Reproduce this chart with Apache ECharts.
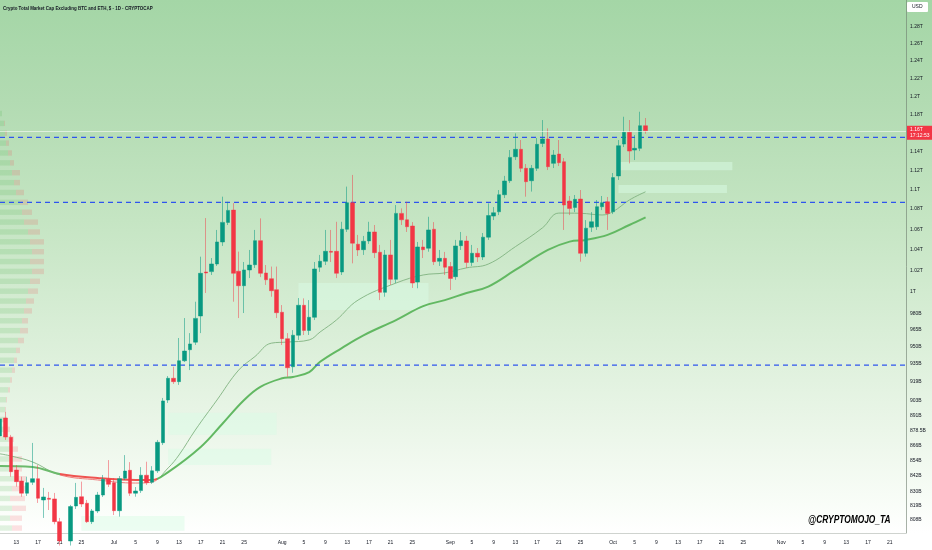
<!DOCTYPE html>
<html>
<head>
<meta charset="utf-8">
<script src="https://cdn.jsdelivr.net/npm/echarts@6/dist/echarts.min.js"></script>
<style>
html,body{margin:0;padding:0;}
body{width:932px;height:550px;overflow:hidden;
background:linear-gradient(to bottom,#a4d6a6 0px,#b2dbb2 100px,#c5e5c3 220px,#d9eed7 330px,#ebf6e9 430px,#f9fdf8 505px,#ffffff 533px,#ffffff 550px);}
#chart{width:932px;height:550px;}
</style>
</head>
<body>
<div id="chart"></div>
<script>
// ---------- categories (daily, Jun 10 -> Nov 24) ----------
const startDay = Date.UTC(2025, 5, 10);
const dayCount = 168;
const categories = [];
for (let i = 0; i < dayCount; i++) {
  categories.push(new Date(startDay + i * 86400000).toISOString().slice(0, 10));
}
const monthNames = ['Jan','Feb','Mar','Apr','May','Jun','Jul','Aug','Sep','Oct','Nov','Dec'];
const tickDays = [1, 5, 9, 13, 17, 21, 25];

// ---------- candles (values in billions USD) ----------
const candleOpen = [874,888.7,872.9,846.6,838.0,828.5,837.0,839.8,823.3,824.6,
824.1,806.8,792,792.4,818.7,825.8,820.8,806.8,814.9,827.1,
839.3,836.7,815.1,840.1,846.4,828.5,830.5,842.5,837.0,846.0,
868.5,903.8,922.3,919.4,937.5,947.2,953.9,977.5,1018.5,1018.8,
1026.1,1047.4,1066.7,1079.0,1019.2,1005.5,1020.4,1025.4,1048.7,1017.5,
1012.1,1001.8,980.9,957.0,932.3,960.1,987.3,964.4,976.3,1023.0,
1028.7,1038.3,1038.3,1018.5,1059.9,1086.4,1045.2,1039.9,1048.4,1057.2,
1037.4,999.3,1034.8,1011.5,1075.7,1069.3,1063.1,1008.9,1042.5,1041.3,
1059.9,1028.7,1031.5,1023.6,1014.0,1043.8,1048.4,1027.6,1036.4,1032.8,
1052.1,1073.0,1077.3,1094.6,1109.0,1134.1,1142.0,1121.9,1109.0,1121.9,
1148.3,1153.0,1127.1,1136.9,1128.8,1088.2,1081.7,1090.2,1036.4,1061.9,
1062.4,1082.4,1087.4,1077.3,1114.0,1147.6,1160.2,1141.2,1143.0,1167.4];
const candleClose = [888,873.1,845.3,837.5,828.5,836.7,839.8,824.6,825.6,823.8,
806.8,792.4,788,818.2,825.3,820.2,806.8,814.9,827.1,839.3,
835.4,815.1,839.8,845.8,828.5,830.2,842.5,836.7,846.0,868.8,
903.0,922.3,919.4,937.5,946.0,952.3,975.3,1017.2,1017.5,1026.1,
1047.4,1066.7,1078.7,1017.2,1005.5,1020.4,1025.1,1048.7,1017.2,1011.1,
1000.8,980.5,957.0,931.4,960.1,987.3,964.4,976.3,1021.3,1028.7,
1038.3,1037.4,1017.2,1059.9,1086.4,1046.2,1039.6,1048.1,1057.2,1037.0,
999.3,1034.8,1011.5,1075.7,1069.3,1062.4,1008.0,1042.5,1039.9,1059.2,
1028.3,1031.5,1023.0,1012.4,1043.5,1048.7,1027.6,1036.4,1032.8,1052.1,
1073.5,1076.3,1094.6,1108.7,1133.4,1142.0,1121.9,1108.0,1121.9,1147.3,
1153.0,1123.6,1135.9,1127.8,1084.1,1080.7,1089.9,1036.4,1060.9,1067.3,
1082.4,1086.4,1075.7,1112.2,1145.8,1160.2,1140.1,1143.0,1167.4,1161.9];
const candleLow = [871,870.7,841.4,833.6,825.8,826.4,834.9,821.0,809.6,815.6,
804.8,789,784,789,816.4,817.9,805.8,805.0,813.3,825.6,
833.3,811.8,810.6,838.8,826.4,825.8,828.7,834.9,835.7,844.3,
866.6,901.3,917.4,916.6,936.4,929.4,951.4,962.0,998.7,1015.6,
1024.2,1043.5,1064.1,990.6,975.6,980.2,1012.7,1022.3,1013.6,1006.2,
995.2,975.6,951.4,923.6,927.1,955.9,960.3,960.3,973.8,1018.5,
1025.1,1028.0,1012.7,1015.6,1057.2,1026.7,1033.8,1034.8,1045.5,1031.8,
992.1,995.2,1006.2,1008.0,1064.1,1057.2,1003.4,1003.1,1031.8,1037.9,
1025.1,1024.2,1015.6,1001.5,1011.0,1039.6,1022.3,1024.2,1028.0,1029.9,
1049.4,1069.0,1074.0,1091.2,1106.7,1130.6,1118.0,1092.6,1097.8,1119.1,
1144.4,1120.1,1122.2,1124.3,1059.2,1074.0,1077.0,1028.3,1033.1,1057.2,
1059.2,1079.0,1059.2,1075.0,1109.8,1144.4,1127.1,1130.6,1140.1,1158.8];
const candleHigh = [894,893.8,874.8,850.5,841.4,841.4,868.3,850.5,832.6,829.5,
828.7,809.6,795,819.5,836.5,837.5,823.3,816.4,829.5,842.7,
854.5,840.3,841.9,858.5,852.9,833.3,848.9,853.2,849.7,870.7,
905.5,924.2,932.3,957.6,975.6,962.0,990.6,1033.1,1071.0,1031.8,
1059.2,1092.6,1087.4,1086.1,1038.0,1028.0,1039.6,1059.2,1070.7,1025.1,
1023.6,1023.6,987.5,962.0,964.7,994.0,993.7,992.1,1028.0,1034.8,
1059.2,1059.2,1067.3,1067.3,1102.9,1115.0,1054.3,1053.3,1067.3,1064.1,
1044.5,1039.6,1049.4,1084.1,1080.7,1087.4,1067.0,1047.4,1049.4,1072.3,
1067.0,1039.6,1037.7,1028.0,1049.4,1057.2,1053.3,1044.5,1041.5,1056.2,
1085.8,1082.1,1099.4,1114.0,1141.2,1159.1,1151.9,1126.4,1125.4,1154.1,
1173.6,1164.5,1141.2,1151.9,1132.7,1093.3,1094.3,1099.4,1069.0,1077.0,
1089.2,1093.3,1092.3,1117.0,1151.9,1177.2,1173.6,1157.3,1182.7,1175.8];

// ---------- moving averages: [dayIndex, value] ----------
const maFast = [[0,859.5],[2,857.8],[6,853.0],[11,842.8],[18,838.8],[25,836.4],[28,837.2],[31,848.3],
[33,858.6],[36,878.8],[40,903.8],[44,929.4],[47,941.2],[50,953.0],[53,954.0],[57,955.9],[59,963.0],
[62,973.8],[66,992.1],[73,1008.0],[78,1015.6],[82,1017.6],[86,1022.4],[90,1026.0],[95,1042.8],
[100,1061.3],[103,1076.0],[107,1075.8],[111,1074.1],[113,1077.5],[116,1089.2],[119,1097.6]];
const maSlow = [[0,849.8],[6,849.0],[11,843.5],[18,840.3],[25,838.8],[28,838.8],[31,845.0],[37,865.0],
[41,884.0],[45,903.8],[48,915.0],[52,922.3],[54,923.4],[57,927.7],[59,936.6],[63,948.7],[67,960.0],
[73,973.8],[78,986.5],[82,992.1],[86,998.7],[90,1004.7],[95,1020.4],[101,1039.6],[105,1047.7],
[108,1049.4],[112,1054.3],[116,1064.1],[119,1071.8]];

// ---------- levels and zones ----------
const levelLines = [1154.8, 1086.9, 933.7];
const lastPrice = 1161.9;
const lastPriceText = '1.16T';
const countdownText = '17:12:53';
const zoneStart = [15, 31, 31, 55, 114, 114];
const zoneEnd   = [34, 51, 50, 79, 135, 134];
const zoneLow   = [800, 875, 850.5, 983, 1120, 1096.3];
const zoneHigh  = [811, 893, 863.5, 1008, 1128.5, 1104.5];

// ---------- y-axis tick labels (billions) ----------
const yTickValues = [1280,1260,1240,1220,1200,1180,1140,1120,1100,1080,1060,1040,1020,1000,
980,965,950,935,919,903,891,878.5,866,854,842,830,819,808];

// ---------- volume profile (bottom -> top bins) ----------
const profileUp = [12,10,12,10,12,14,12,14,10,8,6,5,5,6,8,10,12,14,16,18,20,22,24,26,28,30,32,30,32,30,28,24,22,20,16,14,12,10,8,6,5,4,2,0,0,0,0,0,0,0,0,0,0,0];
const profileDown = [10,12,14,15,14,12,10,8,8,6,4,2,1,1,2,2,3,3,4,6,8,6,8,8,10,10,12,14,12,14,12,14,10,8,8,6,8,4,4,3,2,1,0,0,0,0,0,0,0,0,0,0,0,0];
const profileBins = profileUp.map((_, i) => 'b' + i);

// ---------- build ----------
const candleData = candleOpen.map((o, i) => [o, candleClose[i], candleLow[i], candleHigh[i]]);
const zoneData = zoneStart.map((s, i) => [
  { xAxis: categories[s], yAxis: zoneHigh[i] },
  { xAxis: categories[zoneEnd[i]], yAxis: zoneLow[i] }
]);
const fmtY = v => v >= 1000 ? parseFloat((v / 1000).toFixed(2)) + 'T' : v + 'B';
const labelFont = '"Liberation Sans Narrow","Liberation Sans",Arial,sans-serif';

const levelSeries = levelLines.map(v => ({
  type: 'line', xAxisIndex: 0, yAxisIndex: 0, z: 3, silent: true,
  data: [[categories[0], v], [categories[dayCount - 1], v]],
  showSymbol: false, symbol: 'none',
  lineStyle: { color: '#2f55ee', type: [5, 4], width: 1.25 },
  itemStyle: { color: '#2f55ee' }
}));

const chart = echarts.init(document.getElementById('chart'), null, { renderer: 'canvas' });
chart.setOption({
  backgroundColor: 'transparent',
  animation: false,
  grid: [
    { left: 0, right: 26, top: 0, bottom: 17 },
    { left: 0, width: 70, top: 0, bottom: 17 }
  ],
  xAxis: [
    {
      type: 'category', data: categories, boundaryGap: false, gridIndex: 0,
      axisLine: { show: true, lineStyle: { color: '#cfd3cf', width: 1 } },
      axisTick: { show: false },
      splitLine: { show: false },
      axisLabel: {
        interval: (idx, val) => tickDays.indexOf(+val.slice(8, 10)) >= 0,
        formatter: val => {
          const d = +val.slice(8, 10);
          return d === 1 ? monthNames[+val.slice(5, 7) - 1] : String(d);
        },
        fontSize: 5, color: '#131722', margin: 7, fontFamily: labelFont
      }
    },
    { type: 'value', gridIndex: 1, min: 0, max: 70, show: false }
  ],
  yAxis: [
    {
      type: 'log', logBase: 10, position: 'right', gridIndex: 0,
      min: 798.3, max: 1312.7,
      splitLine: { show: false },
      axisTick: { show: false },
      axisLine: { show: true, lineStyle: { color: 'rgba(110,125,110,0.6)', width: 1 } },
      axisLabel: {
        customValues: yTickValues,
        formatter: v => fmtY(v),
        fontSize: 5, color: '#131722', margin: 4, fontFamily: labelFont
      }
    },
    { type: 'category', gridIndex: 1, data: profileBins, show: false }
  ],
  visualMap: [
    { type: 'piecewise', show: false, seriesIndex: 3, dimension: 0,
      pieces: [{ lt: 10.5, color: '#80b280' }, { gte: 10.5, lte: 28.5, color: '#ee7070' }, { gt: 28.5, color: '#80b280' }] },
    { type: 'piecewise', show: false, seriesIndex: 4, dimension: 0,
      pieces: [{ lt: 10.5, color: '#6cba6c' }, { gte: 10.5, lte: 28.5, color: '#ef5350' }, { gt: 28.5, color: '#62b862' }] }
  ],
  series: [
    { // volume profile up
      type: 'bar', xAxisIndex: 1, yAxisIndex: 1, stack: 'vp', data: profileUp,
      barCategoryGap: '45%', itemStyle: { color: 'rgba(76,175,80,0.17)' }, z: 1, silent: true
    },
    { // volume profile down
      type: 'bar', xAxisIndex: 1, yAxisIndex: 1, stack: 'vp', data: profileDown,
      barCategoryGap: '45%', itemStyle: { color: 'rgba(242,54,69,0.15)' }, z: 1, silent: true
    },
    { // zones holder
      type: 'line', xAxisIndex: 0, yAxisIndex: 0, data: [], z: 1, silent: true,
      markArea: {
        silent: true,
        itemStyle: { color: 'rgba(218,251,230,0.5)' },
        data: zoneData
      }
    },
    { // fast MA (thin)
      type: 'line', xAxisIndex: 0, yAxisIndex: 0, data: maFast, smooth: 0.4,
      showSymbol: false, lineStyle: { width: 0.9 }, z: 2, silent: true
    },
    { // slow MA (thick)
      type: 'line', xAxisIndex: 0, yAxisIndex: 0, data: maSlow, smooth: 0.4,
      showSymbol: false, lineStyle: { width: 2 }, z: 2, silent: true
    },
    {
      type: 'candlestick', xAxisIndex: 0, yAxisIndex: 0, data: candleData, z: 4,
      barWidth: 4,
      itemStyle: {
        color: '#089981', color0: '#f23645',
        borderColor: 'rgba(8,153,129,0.65)', borderColor0: 'rgba(242,54,69,0.6)',
        borderWidth: 0.8
      },
      markLine: {
        silent: true, symbol: ['none', 'none'],
        lineStyle: { color: 'rgba(255,255,255,0.55)', type: 'solid', width: 1 },
        label: {
          show: true, position: 'end', distance: 1, offset: [0, 2],
          formatter: lastPriceText + '\n' + countdownText,
          backgroundColor: '#f23645', color: '#ffffff',
          fontSize: 5, lineHeight: 6, padding: [1, 3, 1, 3], fontFamily: labelFont
        },
        data: [{ yAxis: lastPrice }]
      }
    }
  ].concat(levelSeries),
  graphic: [
    { type: 'text', x: 3, y: 5, scaleX: 0.81, z: 100,
      style: { text: 'Crypto Total Market Cap Excluding BTC and ETH, $ · 1D · CRYPTOCAP',
        fontSize: 5.5, fontWeight: 'bold', fontFamily: labelFont, fill: '#131722' } },
    { type: 'rect', left: 907, top: 2, z: 100,
      shape: { width: 21, height: 10, r: 1 }, style: { fill: '#ffffff' } },
    { type: 'text', left: 912, top: 4.5, z: 101,
      style: { text: 'USD', fontSize: 5, fontFamily: labelFont, fill: '#131722' } },
    { type: 'text', x: 808, y: 514, scaleX: 0.76, z: 100,
      style: { text: '@CRYPTOMOJO_TA', fontSize: 11, fontWeight: 'bold', fontStyle: 'italic',
        fontFamily: labelFont, fill: '#000000' } }
  ]
});
</script>
</body>
</html>
